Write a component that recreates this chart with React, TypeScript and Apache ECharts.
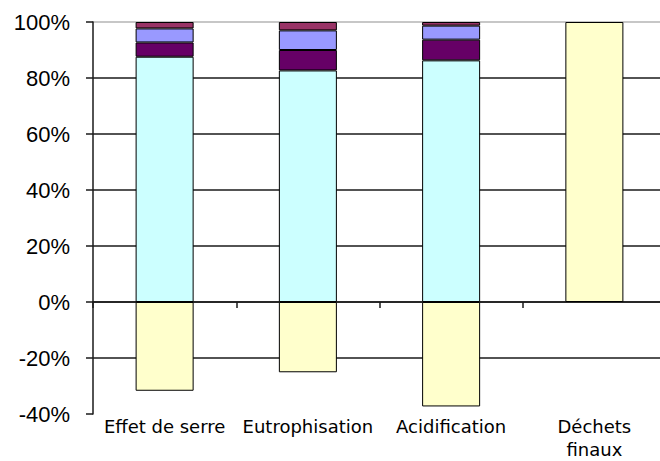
import React, { useEffect, useRef } from "react";
import * as echarts from "echarts";

// Impact categories and the share of each contribution (in %)
const categories = ["Effet de serre", "Eutrophisation", "Acidification", "Déchets\nfinaux"];
const cyanPart = [87.6, 82.7, 86.3, null];
const purplePart = [5.1, 7.3, 7.4, null];
const lavenderPart = [5.0, 7.0, 5.0, null];
const pinkPart = [2.3, 3.0, 1.3, null];
const yellowPart = [-31.7, -25.1, -37.3, 100];

const yMin = -40;
const yMax = 100;
const yStep = 20;

export default function App() {
  const ref = useRef<HTMLDivElement>(null);

  useEffect(() => {
    if (!ref.current) return;
    const chart = echarts.init(ref.current, null, { renderer: "svg" });

    const barStyle = (color: string) => ({
      color,
      borderColor: "#000",
      borderWidth: 1,
    });

    const mk = (name: string, data: (number | null)[], color: string) => ({
      name,
      type: "bar",
      stack: "total",
      barWidth: "40.5%",
      data: data.map((v) => (v === null ? "-" : v)),
      itemStyle: barStyle(color),
    });

    chart.setOption({
      animation: false,
      backgroundColor: "#fff",
      grid: {
        left: 93,
        top: 22,
        width: 573,
        height: 392,
        containLabel: false,
        outerBoundsMode: "none",
      },
      xAxis: {
        type: "category",
        data: categories,
        axisLine: { show: true, onZero: true, lineStyle: { color: "#1a1a1a", width: 1.5 } },
        axisTick: { show: true, length: 6, lineStyle: { color: "#1a1a1a", width: 1.5 } },
        axisLabel: {
          margin: 1,
          color: "#000",
          fontFamily: "DejaVu Sans",
          fontSize: 18,
          lineHeight: 23,
          interval: 0,
        },
      },
      yAxis: {
        type: "value",
        min: yMin,
        max: yMax,
        interval: yStep,
        axisLine: { show: true, lineStyle: { color: "#1a1a1a", width: 1.5 } },
        axisTick: { show: true, length: 7, lineStyle: { color: "#1a1a1a", width: 1.5 } },
        axisLabel: {
          formatter: "{value}%",
          margin: 23,
          color: "#000",
          fontFamily: "Liberation Sans",
          fontSize: 22,
        },
        splitLine: {
          show: true,
          lineStyle: {
            width: 1.5,
            color: [
              "rgba(0,0,0,0)",
              "#1a1a1a",
              "#1a1a1a",
              "#1a1a1a",
              "#1a1a1a",
              "#1a1a1a",
              "#1a1a1a",
              "#b4b4b4",
            ],
          },
        },
      },
      series: [
        mk("Part 1", cyanPart, "#CCFFFF"),
        mk("Part 2", purplePart, "#660066"),
        mk("Part 3", lavenderPart, "#9999FF"),
        mk("Part 4", pinkPart, "#993366"),
        mk("Part 5", yellowPart, "#FFFFCC"),
      ],
    });

    return () => chart.dispose();
  }, []);

  return (
    <div
      ref={ref}
      style={{ position: "fixed", left: 0, top: 0, width: 660, height: 461, background: "#fff" }}
    />
  );
}
